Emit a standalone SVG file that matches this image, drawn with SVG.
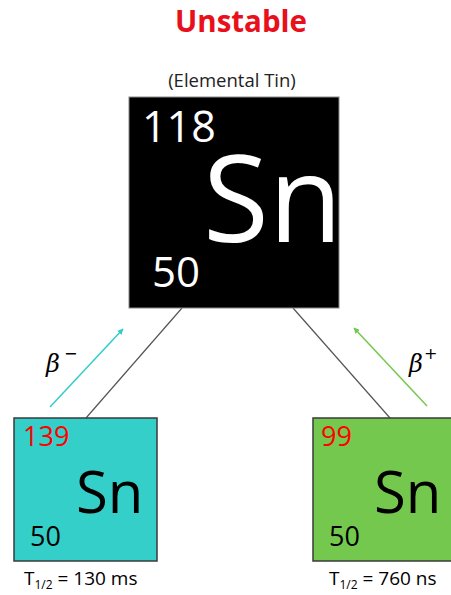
<svg xmlns="http://www.w3.org/2000/svg" width="451" height="595" viewBox="0 0 451 595">
<defs>
<style>
text{font-family:"Open Sans","Noto Sans","Liberation Sans",sans-serif}
.box{stroke:#3a3a3a;stroke-width:1.5}
.conn{stroke:#555;stroke-width:1.2;fill:none}
.beta{font-family:"DejaVu Serif","Liberation Serif",serif;font-style:italic;font-size:24px;fill:#000}
.sup{font-family:"DejaVu Sans","Liberation Sans",sans-serif;font-size:16px;fill:#000}
.cap{font-size:19px;fill:#000}
.sub{font-size:12px;fill:#000}
</style>
<marker id="ac" viewBox="0 0 10 10" refX="9" refY="5" markerWidth="6" markerHeight="6" orient="auto" markerUnits="userSpaceOnUse"><path d="M0,0L10,5L0,10z" fill="#33cccc"/></marker>
<marker id="ag" viewBox="0 0 10 10" refX="9" refY="5" markerWidth="6" markerHeight="6" orient="auto" markerUnits="userSpaceOnUse"><path d="M0,0L10,5L0,10z" fill="#74c84e"/></marker>
</defs>
<rect width="451" height="595" fill="#fff"/>
<text x="241" y="32" text-anchor="middle" font-size="31" font-weight="bold" fill="#e8101a" textLength="132" lengthAdjust="spacingAndGlyphs">Unstable</text>
<text x="232" y="87" text-anchor="middle" font-size="18.5" fill="#222">(Elemental Tin)</text>
<g id="connectors">
<line class="conn" x1="182" y1="308" x2="86" y2="418"/>
<line class="conn" x1="293" y1="308" x2="390" y2="418"/>
<line x1="50" y1="407" x2="123" y2="329" stroke="#33cccc" stroke-width="1.5" marker-end="url(#ac)"/>
<line x1="427" y1="406" x2="354" y2="328" stroke="#74c84e" stroke-width="1.5" marker-end="url(#ag)"/>
<text class="beta" x="46" y="372">β</text><text class="sup" x="64" y="359">−</text>
<text class="beta" x="409" y="372">β</text><text class="sup" x="424" y="359">+</text>
</g>
<g id="sn118">
<rect x="129" y="97" width="210" height="211" fill="#000" stroke="#888" stroke-width="1"/>
<text x="142" y="142" font-size="43" fill="#fff">118</text>
<text x="203" y="242" font-size="120" fill="#fff">Sn</text>
<text x="152" y="287" font-size="42" fill="#fff">50</text>
</g>
<g id="sn139">
<rect class="box" x="14" y="418" width="143" height="143" fill="#33cfc8"/>
<text x="23" y="446" font-size="27" fill="#f00">139</text>
<text x="76" y="513" font-size="58" fill="#000">Sn</text>
<text x="30" y="546" font-size="27" fill="#000">50</text>
</g>
<g id="sn99">
<rect class="box" x="313" y="418" width="143" height="143" fill="#74c84e"/>
<text x="321" y="446" font-size="27" fill="#f00">99</text>
<text x="374" y="513" font-size="58" fill="#000">Sn</text>
<text x="329" y="546" font-size="27" fill="#000">50</text>
</g>
<text class="cap" x="24" y="585">T<tspan class="sub" dy="4">1/2</tspan><tspan dy="-4"> = 130 ms</tspan></text>
<text class="cap" x="329" y="585">T<tspan class="sub" dy="4">1/2</tspan><tspan dy="-4"> = 760 ns</tspan></text>
</svg>
